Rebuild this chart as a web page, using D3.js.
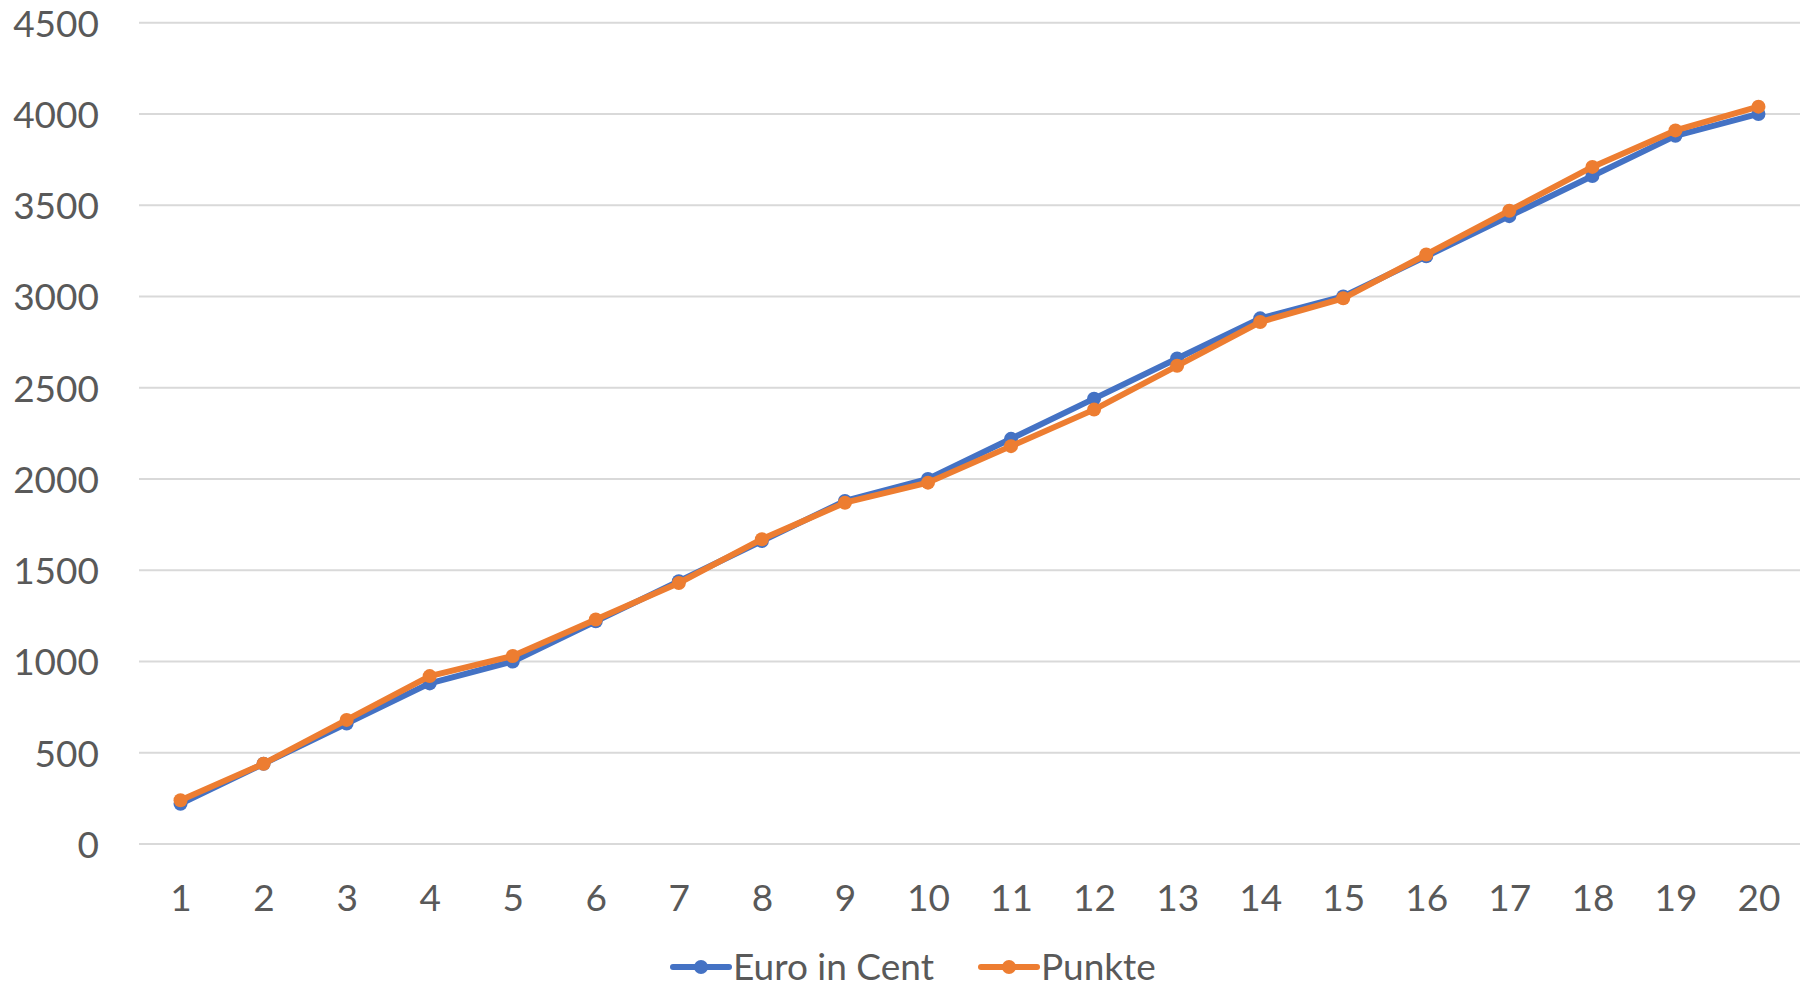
<!DOCTYPE html>
<html>
<head>
<meta charset="utf-8">
<script src="https://cdn.jsdelivr.net/npm/d3@7"></script>
<style>
  html, body { margin: 0; padding: 0; background: #fff; }
  svg text { font-family: Lato, "Open Sans", sans-serif; fill: #595959; }
</style>
</head>
<body>
<div class="line-chart"></div>
<script>
// values
const categories = [1, 2, 3, 4, 5, 6, 7, 8, 9, 10, 11, 12, 13, 14, 15, 16, 17, 18, 19, 20]
const euroInCent = [220, 440, 660, 880, 1000, 1220, 1440, 1660, 1880, 2000, 2220, 2440, 2660, 2880, 3000, 3220, 3440, 3660, 3880, 4000]
const punkte = [240, 440, 680, 920, 1030, 1230, 1430, 1670, 1870, 1980, 2180, 2380, 2620, 2860, 2990, 3230, 3470, 3710, 3910, 4040]
const yTicks = [0, 500, 1000, 1500, 2000, 2500, 3000, 3500, 4000, 4500]
const seriesNames = ["Euro in Cent", "Punkte"]

const dimensions = { width: 1800, height: 991 }
const plot = { left: 139, right: 1800, top: 22.7, bottom: 844 }
const colors = ["#4472C4", "#ED7D31"]

const svg = d3.select('.line-chart')
    .append('svg')
    .attr('width', dimensions.width)
    .attr('height', dimensions.height)

const x = d3.scalePoint()
    .domain(categories)
    .range([plot.left, plot.right])
    .padding(0.5)

const y = d3.scaleLinear()
    .domain([0, 4500])
    .range([plot.bottom, plot.top])

// horizontal gridlines
svg.append('g')
    .selectAll('line')
    .data(yTicks)
    .enter()
    .append('line')
    .attr('x1', plot.left)
    .attr('x2', plot.right)
    .attr('y1', d => y(d))
    .attr('y2', d => y(d))
    .attr('stroke', '#d9d9d9')
    .attr('stroke-width', 2)

// y axis labels (no thousands separator, like the original)
const yAxis = svg.append('g')
    .attr('transform', `translate(${plot.left - 40}, 0)`)
    .call(d3.axisLeft(y).tickValues(yTicks).tickFormat(d3.format('d')).tickSize(0).tickPadding(0))
yAxis.select('.domain').remove()
yAxis.selectAll('text')
    .attr('font-size', 37)
    .attr('font-family', 'Lato')
    .attr('fill', '#595959')
    .attr('dy', '0.36em')

// x axis labels
const xAxis = svg.append('g')
    .attr('transform', `translate(0, ${plot.bottom + 36})`)
    .call(d3.axisBottom(x).tickSize(0).tickPadding(0))
xAxis.select('.domain').remove()
xAxis.selectAll('text')
    .attr('font-size', 37)
    .attr('font-family', 'Lato')
    .attr('fill', '#595959')
    .attr('dy', '0.85em')

const line = d3.line()
    .x((d, i) => x(categories[i]))
    .y(d => y(d))

const allSeries = [euroInCent, punkte]

allSeries.forEach((values, s) => {
    const g = svg.append('g')
    g.append('path')
        .datum(values)
        .attr('d', line)
        .attr('fill', 'none')
        .attr('stroke', colors[s])
        .attr('stroke-width', 6)
        .attr('stroke-linejoin', 'round')
        .attr('stroke-linecap', 'round')
    g.selectAll('circle')
        .data(values)
        .enter()
        .append('circle')
        .attr('cx', (d, i) => x(categories[i]))
        .attr('cy', d => y(d))
        .attr('r', 7)
        .attr('fill', colors[s])
})

// legend at the bottom, kept just inside the lower edge
const legendX = [673, 981]
const legend = svg.append('g')
    .attr('transform', 'translate(0, 967)')

seriesNames.forEach((name, s) => {
    const item = legend.append('g')
        .attr('transform', `translate(${legendX[s]}, 0)`)
    item.append('line')
        .attr('x1', 0)
        .attr('x2', 56)
        .attr('stroke', colors[s])
        .attr('stroke-width', 6)
        .attr('stroke-linecap', 'round')
    item.append('circle')
        .attr('cx', 28)
        .attr('r', 7)
        .attr('fill', colors[s])
    item.append('text')
        .attr('x', 60)
        .attr('dy', '0.36em')
        .attr('font-size', 37)
        .text(name)
})
</script>
</body>
</html>
